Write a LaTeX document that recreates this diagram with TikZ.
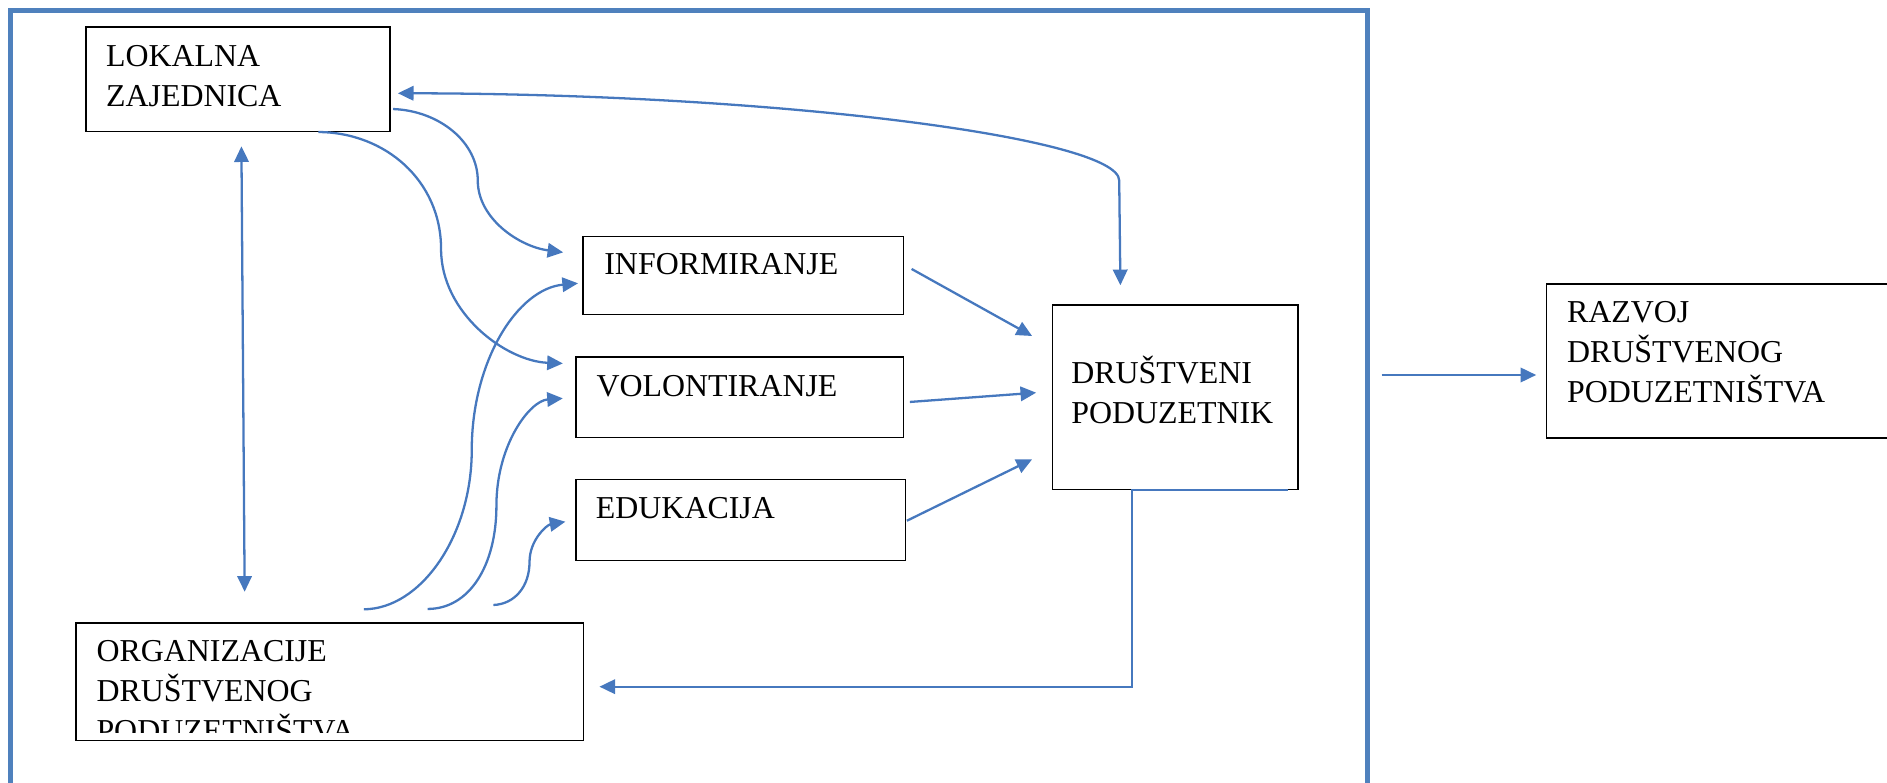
\documentclass[tikz,border=0pt]{standalone}
\usepackage{fontspec}
\setmainfont{Liberation Serif}
\usetikzlibrary{arrows.meta,calc}
\definecolor{framecol}{RGB}{79,129,189}
\definecolor{linkcol}{RGB}{70,120,190}
\newcommand{\boxfont}{\fontsize{26.5}{33.3}\selectfont}

\begin{document}
\begin{tikzpicture}[x=1pt,y=-1pt,
		box/.style={draw=black, line width=1.1pt, anchor=north west, inner sep=0pt},
		txt/.style={anchor=base west, inner sep=0pt, align=left, font=\boxfont},
		link/.style={draw=linkcol, line width=1.9pt},
		onearrow/.style={-{Triangle[length=13pt,width=12pt]}},
		twoarrow/.style={{Triangle[length=13pt,width=12pt]}-{Triangle[length=13pt,width=12pt]}}]
		\useasboundingbox (0,0) rectangle (1568,650);
		\draw[framecol, line width=4pt] (9,9) rectangle (1136.5,700);

		\node[box, minimum width=252.5, minimum height=86.5] (lokalna) at (71,22) {};
		\node[txt] (lokalna-txt) at (88,88.7) {LOKALNA\\ZAJEDNICA};

		\node[box, minimum width=266, minimum height=65] (inform) at (484,196) {};
		\node[txt] (inform-txt) at (502,228.5) {INFORMIRANJE};

		\node[box, minimum width=272, minimum height=67] (volont) at (478,296) {};
		\node[txt] (volont-txt) at (495.5,329.6) {VOLONTIRANJE};

		\node[box, minimum width=274, minimum height=67] (eduk) at (478,398) {};
		\node[txt] (eduk-txt) at (495,430.5) {EDUKACIJA};

		\node[box, minimum width=204, minimum height=153] (drustveni) at (874,253) {};
		\node[txt] (drustveni-txt) at (890,352) {DRUŠTVENI\\PODUZETNIK};

		\node[box, minimum width=400, minimum height=128] (razvoj) at (1284.5,235.5) {};
		\node[txt] (razvoj-txt) at (1302,334.5) {RAZVOJ\\DRUŠTVENOG\\PODUZETNIŠTVA};

		\node[box, minimum width=422, minimum height=98] (organiz) at (62.5,517) {};
		\begin{scope}
			\clip (organiz.north west) rectangle ($(organiz.south east)+(0,-7.5)$);
			\node[txt] (organiz-txt) at (80,616.4) {ORGANIZACIJE\\DRUŠTVENOG\\PODUZETNIŠTVA};
		\end{scope}

		\draw[link, twoarrow] ($(lokalna.south west)+(129.6,12)$) -- ($(organiz.north west)+(140.8,-25.3)$);
		\draw[link, twoarrow] ($(lokalna.north east)+(6,55.5)$) .. controls (650,78) and (930,115) .. (930,150) -- ($(drustveni.north west)+(57,-16)$);

		\draw[link, onearrow] ($(lokalna.north east)+(2,68.6)$) .. controls (365,92) and (397,118) .. (397,150) .. controls (397,182) and (432,205) .. ($(inform.north west)+(-16,13.7)$);
		\draw[link, onearrow] ($(lokalna.south west)+(193.5,0.1)$) .. controls (320,110) and (366.5,150) .. (366.5,207) .. controls (366.5,260) and (420,300) .. ($(volont.north west)+(-10.3,6)$);

		\draw[link, onearrow] ($(organiz.north west)+(239.8,-10.7)$) .. controls (350,506) and (392,445) .. (392,374) .. controls (392,300) and (430,240) .. ($(inform.north west)+(-3.7,39.4)$);
		\draw[link, onearrow] ($(organiz.north west)+(292.9,-11)$) .. controls (390,506) and (412.5,470) .. (412.5,420) .. controls (412.5,370) and (440,333) .. ($(volont.north west)+(-10.3,35)$);
		\draw[link, onearrow] ($(organiz.north west)+(347.5,-14.3)$) .. controls (428,502) and (440,487) .. (440,467) .. controls (440,448) and (455,436) .. ($(eduk.north west)+(-8.2,35.5)$);

		\draw[link, onearrow] ($(inform.north east)+(6.4,27.5)$) -- ($(drustveni.north west)+(-16.4,26.2)$);
		\draw[link, onearrow] ($(volont.north east)+(5,38)$) -- ($(drustveni.north west)+(-13,73.3)$);
		\draw[link, onearrow] ($(eduk.north east)+(0.5,34.7)$) -- ($(drustveni.north west)+(-16.4,128.7)$);

		\draw[link, onearrow] ($(drustveni.south east)+(-9,0)$) -- ($(drustveni.south west)+(66.4,0)$) |- ($(organiz.north east)+(12.5,53.6)$);

		\coordinate (exit) at (1148,311.6);
		\draw[link, onearrow] (exit) -- ($(razvoj.north west)+(-8,76.1)$);
	\end{tikzpicture}
\end{document}
